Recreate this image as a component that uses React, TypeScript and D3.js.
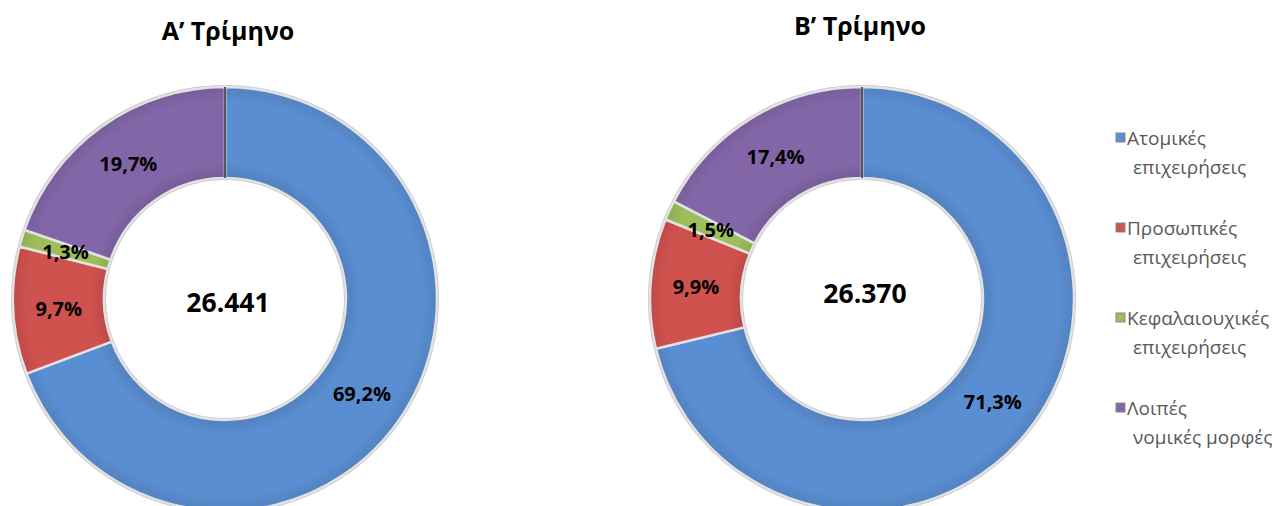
import React from "react";
import * as d3 from "d3";

const categories = ["Ατομικές επιχειρήσεις", "Προσωπικές επιχειρήσεις", "Κεφαλαιουχικές επιχειρήσεις", "Λοιπές νομικές μορφές"];
const legendLines = [["Ατομικές", "επιχειρήσεις"], ["Προσωπικές", "επιχειρήσεις"], ["Κεφαλαιουχικές", "επιχειρήσεις"], ["Λοιπές", "νομικές μορφές"]];
const colors = ["#5A8ED2", "#D0524F", "#9CBE5B", "#8366A8"];
const titles = ["A’ Τρίμηνο", "B’ Τρίμηνο"];
const totals = ["26.441", "26.370"];
const q1Values = [69.2, 9.7, 1.3, 19.7];
const q2Values = [71.3, 9.9, 1.5, 17.4];
const series = [q1Values, q2Values];

const fmt = (v: number) => v.toFixed(1).replace(".", ",") + "%";

export default function App() {
  const W = 1280, H = 506;
  const centers = [{ x: 225, y: 299, tx: 228, ty: 40, cy: 302 }, { x: 862, y: 299, tx: 860, ty: 35, cy: 293 }];
  const outerR = 212, innerR = 121;
  const pie = d3.pie<number>().sort(null).value((d) => d).startAngle(0).endAngle(2 * Math.PI);
  const arc = d3.arc<d3.PieArcDatum<number>>().innerRadius(innerR).outerRadius(outerR);
  const labelArc = d3.arc<d3.PieArcDatum<number>>().innerRadius(innerR + 4).outerRadius(outerR - 4);
  const font = "'Open Sans', 'Noto Sans', sans-serif";
  return (
    <svg width={W} height={H} style={{ position: "absolute", left: 0, top: 0, background: "#fff" }}>
      <defs>
        {colors.map((c, i) => (
          <radialGradient key={i} id={`g${i}`} gradientUnits="userSpaceOnUse" cx={0} cy={0} r={outerR}>
            <stop offset={innerR / outerR} stopColor={d3.color(c)!.darker(0.3).toString()} />
            <stop offset={(innerR + 15) / outerR} stopColor={c} />
            <stop offset={(outerR - 15) / outerR} stopColor={c} />
            <stop offset={1} stopColor={d3.color(c)!.darker(0.25).toString()} />
          </radialGradient>
        ))}
      </defs>
      {series.map((vals, si) => {
        const c = centers[si];
        const arcs = pie(vals);
        return (
          <g key={si}>
            <text x={c.tx} y={c.ty} textAnchor="middle" fontFamily={font} fontWeight="bold" fontSize={25} fill="#000">
              {titles[si]}
            </text>
            <g transform={`translate(${c.x},${c.y})`}>
              <circle r={outerR + 1} fill="none" stroke="#c8c8c8" strokeWidth={2} />
              <circle r={innerR - 1} fill="none" stroke="#c8c8c8" strokeWidth={2} />
              {arcs.map((a, i) => (
                <path key={i} d={arc(a) || ""} fill={`url(#g${i})`} stroke="#e2e2e2" strokeWidth={2.5} />
              ))}
              <line x1={0} y1={-innerR} x2={0} y2={-outerR} stroke="#555" strokeWidth={2} />
              {arcs.map((a, i) => {
                const [lx, ly] = labelArc.centroid(a);
                return (
                  <text key={i} x={lx} y={ly} textAnchor="middle" dominantBaseline="central" fontFamily={font} fontWeight="bold" fontSize={20} fill="#000">
                    {fmt(vals[i])}
                  </text>
                );
              })}
            </g>
            <text x={c.x + 3} y={c.cy} textAnchor="middle" dominantBaseline="central" fontFamily={font} fontWeight="bold" fontSize={26.5} fill="#000">
              {totals[si]}
            </text>
          </g>
        );
      })}
      {categories.map((cat, i) => {
        const y = 138 + i * 90;
        return (
          <g key={cat}>
            <rect x={1116} y={y - 5} width={9} height={9} fill={colors[i]} stroke="#888" strokeWidth={1} />
            <text x={1127} y={y} dominantBaseline="central" fontFamily={font} fontSize={19} fill="#595959">
              {legendLines[i][0]}
            </text>
            <text x={1133} y={y + 29} dominantBaseline="central" fontFamily={font} fontSize={19} fill="#595959">
              {legendLines[i][1]}
            </text>
          </g>
        );
      })}
    </svg>
  );
}
